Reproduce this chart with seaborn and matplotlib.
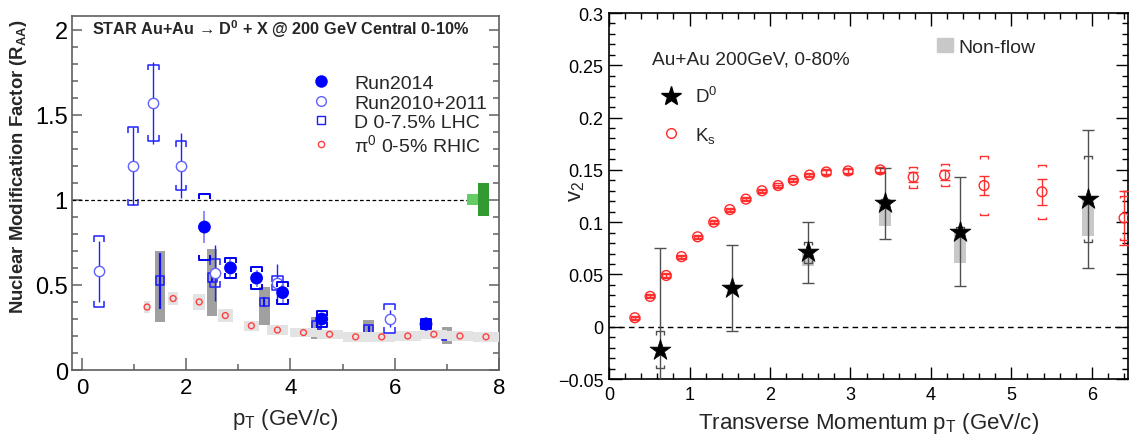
import numpy as np
import matplotlib
matplotlib.use("Agg")
import matplotlib.pyplot as plt
import seaborn as sns
from matplotlib.lines import Line2D
from matplotlib.patches import Patch
from matplotlib.ticker import FuncFormatter, MultipleLocator

# ---------------- Left panel data (R_AA) ----------------
run14_pt = [2.35, 2.85, 3.35, 3.85, 4.6, 6.6]
run14_raa = [0.84, 0.60, 0.54, 0.455, 0.30, 0.27]
run14_stat = [0.095, 0.06, 0.05, 0.06, 0.03, 0.04]
run14_sys = [0.195, 0.06, 0.065, 0.065, 0.045, 0.03]

run1011_pt = [0.33, 0.98, 1.37, 1.9, 2.55, 3.75, 5.9]
run1011_raa = [0.58, 1.20, 1.57, 1.20, 0.57, 0.51, 0.30]
run1011_stat = [0.18, 0.23, 0.24, 0.19, 0.165, 0.11, 0.05]
run1011_sys = [0.21, 0.23, 0.225, 0.145, 0.083, 0.04, 0.085]

lhc_pt = [1.5, 2.5, 3.5, 4.5, 5.5, 7.0]
lhc_raa = [0.525, 0.545, 0.40, 0.265, 0.24, 0.20]
lhc_stat = [0.165, 0.03, 0.03, 0.02, 0.02, 0.02]
lhc_sys_lo = [0.245, 0.225, 0.135, 0.085, 0.02, 0.045]
lhc_sys_hi = [0.175, 0.165, 0.09, 0.045, 0.055, 0.05]

pi0_pt = [1.25, 1.75, 2.25, 2.75, 3.25, 3.75, 4.25, 4.75, 5.25, 5.75, 6.25, 6.75, 7.25, 7.75]
pi0_raa = [0.37, 0.42, 0.40, 0.32, 0.26, 0.235, 0.22, 0.21, 0.195, 0.195, 0.20, 0.21, 0.20, 0.195]
pi0_sys = [0.035, 0.04, 0.045, 0.036, 0.03, 0.028, 0.028, 0.028, 0.028, 0.028, 0.028, 0.028, 0.028, 0.028]
pi0_binw = [0.065, 0.10, 0.12, 0.14, 0.15, 0.20, 0.25, 0.25, 0.25, 0.25, 0.25, 0.25, 0.25, 0.25]

norm_x = [7.5, 7.7]
norm_half = [0.033, 0.097]
norm_colors = ["#66cc66", "#339933"]

# ---------------- Right panel data (v2) ----------------
ks_pt = [0.32, 0.51, 0.71, 0.90, 1.10, 1.30, 1.50, 1.70, 1.90, 2.10, 2.29, 2.49, 2.70,
         2.97, 3.37, 3.78, 4.17, 4.66, 5.38, 6.40]
ks_v2 = [0.0086, 0.029, 0.049, 0.067, 0.086, 0.100, 0.112, 0.122, 0.130, 0.135, 0.140,
         0.145, 0.148, 0.149, 0.150, 0.143, 0.145, 0.135, 0.129, 0.104]
ks_stat = [0.001, 0.001, 0.001, 0.001, 0.001, 0.001, 0.001, 0.001, 0.001, 0.001, 0.001,
           0.001, 0.002, 0.002, 0.002, 0.005, 0.005, 0.0095, 0.0125, 0.026]
ks_sys = [0.002, 0.002, 0.002, 0.002, 0.002, 0.002, 0.002, 0.002, 0.002, 0.002, 0.002,
          0.002, 0.003, 0.003, 0.003, 0.010, 0.0105, 0.028, 0.026, 0.021]

d0_pt = [0.63, 1.53, 2.47, 3.43, 4.36, 5.95]
d0_v2 = [-0.022, 0.037, 0.071, 0.118, 0.091, 0.122]
d0_stat = [0.097, 0.041, 0.029, 0.034, 0.052, 0.066]
d0_sys = [0.0175, 0.003, 0.010, 0.004, 0.004, 0.041]
d0_nonflow = [0.0, 0.0, 0.013, 0.0215, 0.030, 0.035]

# ---------------- style ----------------
sns.set_theme(style="ticks")
plt.rcParams["font.family"] = ["Liberation Sans", "DejaVu Sans"]
plt.rcParams["mathtext.fontset"] = "custom"
plt.rcParams["mathtext.rm"] = "Liberation Sans"
plt.rcParams["mathtext.it"] = "Liberation Sans:italic"
plt.rcParams["mathtext.bf"] = "Liberation Sans:bold"
plt.rcParams["mathtext.default"] = "regular"


def brackets(ax, x, y, lo, hi, w, h, color, lw, z):
    xs, ys = [], []
    for xi, yi, l, u in zip(x, y, lo, hi):
        top, bot = yi + u, yi - l
        xs += [xi - w, xi - w, xi + w, xi + w, np.nan, xi - w, xi - w, xi + w, xi + w, np.nan]
        ys += [top - h, top, top, top - h, np.nan, bot + h, bot, bot, bot + h, np.nan]
    ax.plot(xs, ys, color=color, lw=lw, zorder=z, solid_capstyle="butt")


fig = plt.figure(figsize=(11.3, 4.35), dpi=100)
axL = fig.add_axes([0.0637, 0.1471, 0.3779, 0.8138])
axR = fig.add_axes([0.539, 0.1264, 0.4593, 0.8414])

# ================= LEFT =================
axL.set_xlim(-0.19, 8.0)
axL.set_ylim(0, 2.08)

# LHC sys boxes
lhc_lo = np.array(lhc_raa) - np.array(lhc_sys_lo)
axL.bar(lhc_pt, np.array(lhc_sys_lo) + np.array(lhc_sys_hi), bottom=lhc_lo, width=0.2,
        color="#a0a0a0", zorder=2, linewidth=0)
# LHC stat
axL.errorbar(lhc_pt, lhc_raa, yerr=lhc_stat, fmt="none", ecolor="#1010ff", elinewidth=1.6, zorder=3)
sns.scatterplot(x=lhc_pt, y=lhc_raa, ax=axL, marker="s", s=40, facecolor="none",
                edgecolor="#1a1aff", linewidth=1.1, zorder=4)

# pi0 boxes (drawn above LHC)
pi0_lo = np.array(pi0_raa) - np.array(pi0_sys)
axL.bar(pi0_pt, 2 * np.array(pi0_sys), bottom=pi0_lo, width=2 * np.array(pi0_binw),
        color="#e3e3e3", zorder=5, linewidth=0)
sns.scatterplot(x=pi0_pt, y=pi0_raa, ax=axL, marker="o", s=18, facecolor="none",
                edgecolor="#ff4040", linewidth=1.0, zorder=6)

# normalization boxes
axL.bar(norm_x, 2 * np.array(norm_half), bottom=1 - np.array(norm_half), width=0.21,
        color=norm_colors, zorder=5, linewidth=0)
axL.axhline(1.0, xmin=0, xmax=(7.39 + 0.19) / 8.19, color="black", lw=0.9, ls=(0, (3, 2)), zorder=1)

# Run2010+2011
axL.errorbar(run1011_pt, run1011_raa, yerr=run1011_stat, fmt="none", ecolor="#2020ff", elinewidth=1.0, zorder=6)
brackets(axL, run1011_pt, run1011_raa, run1011_sys, run1011_sys, 0.1, 0.035, "#2020ff", 1.1, 6)
sns.scatterplot(x=run1011_pt, y=run1011_raa, ax=axL, marker="o", s=55, facecolor="white",
                edgecolor="#6060ff", linewidth=1.0, zorder=7)

# Run2014
axL.errorbar(run14_pt, run14_raa, yerr=run14_stat, fmt="none", ecolor="#7a7aff", elinewidth=1.2, zorder=7)
brackets(axL, run14_pt, run14_raa, run14_sys, run14_sys, 0.1, 0.03, "#0000ee", 1.4, 7)
sns.scatterplot(x=run14_pt, y=run14_raa, ax=axL, marker="o", s=85, color="#0000ff",
                edgecolor="none", zorder=8)

axL.set_xticks([0, 2, 4, 6, 8])
axL.xaxis.set_minor_locator(MultipleLocator(1))
axL.set_yticks([0, 0.5, 1, 1.5, 2])
axL.yaxis.set_minor_locator(MultipleLocator(0.1))
fmt = FuncFormatter(lambda v, p: ("%g" % round(v, 6)).replace("-", "\u2212"))
axL.xaxis.set_major_formatter(fmt)
axL.yaxis.set_major_formatter(fmt)
axL.tick_params(which="both", direction="in", right=True, top=False, colors="#606060",
                labelcolor="black", width=1.1)
axL.tick_params(axis="x", which="major", length=9, labelsize=16, pad=5)
axL.tick_params(axis="x", which="minor", length=4.6)
axL.tick_params(axis="y", which="major", length=7.5, labelsize=17, pad=3)
axL.tick_params(axis="y", which="minor", length=4.5)
for s in axL.spines.values():
    s.set_color("#606060")
    s.set_linewidth(1.2)

axL.set_xlabel("p$_{T}$ (GeV/c)", fontsize=16)
axL.xaxis.label.set_va("baseline")
axL.xaxis.set_label_coords(0.5, -0.1525)
axL.set_ylabel("Nuclear Modification Factor (R$_{\\mathbf{AA}}$)", fontsize=13.3, fontweight="bold")
axL.yaxis.label.set_ha("right")
axL.yaxis.label.set_va("center")
axL.yaxis.set_label_coords(-0.125, 0.995)

axL.text(0.047, 0.949, "STAR Au+Au \u2192 D$^{\\mathbf{0}}$ + X @ 200 GeV Central 0-10%",
         transform=axL.transAxes, fontsize=11.7, fontweight="bold", va="baseline", ha="left")

hL = [
    Line2D([], [], ls="none", marker="o", markersize=9, color="#0000ff", markeredgecolor="none"),
    Line2D([], [], ls="none", marker="o", markersize=7, markerfacecolor="white", markeredgecolor="#6060ff"),
    Line2D([], [], ls="none", marker="s", markersize=6, markerfacecolor="white", markeredgecolor="#1a1aff"),
    Line2D([], [], ls="none", marker="o", markersize=4.5, markerfacecolor="white", markeredgecolor="#ff4040"),
]
axL.legend(hL, ["Run2014", "Run2010+2011", "D 0-7.5% LHC", "\u03c0$^{0}$ 0-5% RHIC"],
           loc="upper left", bbox_to_anchor=(0.561, 0.835), frameon=False, fontsize=14,
           borderpad=0, borderaxespad=0, handlelength=1.0, handletextpad=1.2, labelspacing=0.1)

# ================= RIGHT =================
axR.set_xlim(0, 6.45)
axR.set_ylim(-0.05, 0.3)
axR.axhline(0.0, color="black", lw=1.0, ls=(0, (4, 3)), zorder=1)

# non-flow boxes
axR.bar(d0_pt, d0_nonflow, bottom=np.array(d0_v2) - np.array(d0_nonflow), width=0.15,
        color="#c8c8c8", zorder=2, linewidth=0)

# Ks
axR.errorbar(ks_pt, ks_v2, yerr=ks_stat, fmt="none", ecolor="#ff3030", elinewidth=1.0,
             capsize=3.5, capthick=1.0, zorder=4)
brackets(axR, ks_pt, ks_v2, ks_sys, ks_sys, 0.05, 0.0022, "#ff3030", 1.0, 4)
sns.scatterplot(x=ks_pt, y=ks_v2, ax=axR, marker="o", s=50, facecolor="none",
                edgecolor="#ff2a2a", linewidth=1.0, zorder=5)

# D0
axR.errorbar(d0_pt, d0_v2, yerr=d0_stat, fmt="none", ecolor="#505050", elinewidth=1.0,
             capsize=4, capthick=1.0, zorder=4)
brackets(axR, d0_pt, d0_v2, d0_sys, d0_sys, 0.05, 0.003, "#505050", 1.0, 4)
sns.scatterplot(x=d0_pt, y=d0_v2, ax=axR, marker="*", s=250, color="black",
                edgecolor="black", linewidth=0.5, zorder=6)

axR.xaxis.set_major_locator(MultipleLocator(1))
axR.xaxis.set_minor_locator(MultipleLocator(0.2))
axR.yaxis.set_major_locator(MultipleLocator(0.05))
axR.yaxis.set_minor_locator(MultipleLocator(0.01))
axR.xaxis.set_major_formatter(fmt)
axR.yaxis.set_major_formatter(fmt)
axR.tick_params(which="both", direction="in", right=True, top=True, colors="black", width=1.0)
axR.tick_params(which="major", length=9, labelsize=13)
axR.tick_params(which="minor", length=4.3)
axR.tick_params(axis="x", pad=5)
axR.tick_params(axis="y", pad=4)
for s in axR.spines.values():
    s.set_color("black")
    s.set_linewidth(1.2)

axR.set_xlabel("Transverse Momentum p$_{T}$ (GeV/c)", fontsize=16)
axR.xaxis.label.set_va("baseline")
axR.xaxis.set_label_coords(0.5, -0.133)
axR.set_ylabel("v$_{2}$", fontsize=16)
axR.yaxis.label.set_va("center")
axR.yaxis.set_label_coords(-0.062, 0.514)

axR.text(0.083, 0.863, "Au+Au 200GeV, 0-80%", transform=axR.transAxes, fontsize=13.8,
         va="baseline", ha="left")

hR = [
    Line2D([], [], ls="none", marker="*", markersize=15, color="black"),
    Line2D([], [], ls="none", marker="o", markersize=7, markerfacecolor="none", markeredgecolor="#ff2a2a"),
]
legR = axR.legend(hR, ["D$^{0}$", "K$_{s}$"], loc="upper left", bbox_to_anchor=(0.101, 0.80),
                  frameon=False, fontsize=13.5, borderpad=0, borderaxespad=0, handlelength=1.0,
                  handletextpad=0.78, labelspacing=1.0)
axR.add_artist(legR)
axR.legend([Patch(color="#c8c8c8")], ["Non-flow"], loc="upper left", bbox_to_anchor=(0.632, 0.933),
           frameon=False, fontsize=14, borderpad=0, borderaxespad=0, handlelength=0.82,
           handleheight=0.78, handletextpad=0.3)

fig.savefig("out.png", dpi=100)
